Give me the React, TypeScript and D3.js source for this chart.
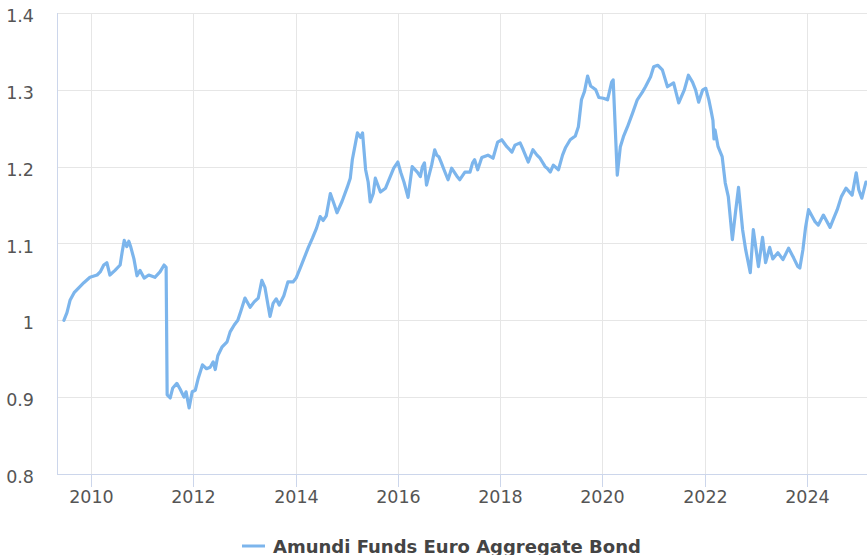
import React from "react";
import * as d3 from "d3";

const seriesName = "Amundi Funds Euro Aggregate Bond";

// decimal years
const years: number[] = [
  2009.47, 2009.53, 2009.59, 2009.67, 2009.77, 2009.86, 2009.98, 2010.12, 2010.18, 2010.25,
  2010.31, 2010.37, 2010.47, 2010.57, 2010.61, 2010.65, 2010.70, 2010.74, 2010.78, 2010.84,
  2010.90, 2010.96, 2011.04, 2011.13, 2011.25, 2011.35, 2011.43, 2011.47, 2011.49, 2011.55,
  2011.60, 2011.68, 2011.74, 2011.82, 2011.86, 2011.92, 2011.98, 2012.04, 2012.10, 2012.18,
  2012.26, 2012.33, 2012.39, 2012.43, 2012.48, 2012.56, 2012.66, 2012.72, 2012.80, 2012.87,
  2012.93, 2013.01, 2013.11, 2013.19, 2013.27, 2013.34, 2013.40, 2013.46, 2013.50, 2013.56,
  2013.62, 2013.68, 2013.77, 2013.85, 2013.95, 2014.01, 2014.09, 2014.15, 2014.25, 2014.33,
  2014.41, 2014.48, 2014.54, 2014.60, 2014.68, 2014.76, 2014.81, 2014.91, 2015.01, 2015.07,
  2015.11, 2015.17, 2015.21, 2015.27, 2015.31, 2015.37, 2015.42, 2015.46, 2015.52, 2015.56,
  2015.66, 2015.76, 2015.92, 2016.00, 2016.06, 2016.12, 2016.20, 2016.28, 2016.38, 2016.44,
  2016.48, 2016.52, 2016.56, 2016.66, 2016.72, 2016.76, 2016.80, 2016.85, 2016.89, 2016.98,
  2017.05, 2017.15, 2017.21, 2017.31, 2017.41, 2017.46, 2017.50, 2017.56, 2017.64, 2017.76,
  2017.86, 2017.95, 2018.03, 2018.13, 2018.23, 2018.29, 2018.39, 2018.45, 2018.55, 2018.64,
  2018.72, 2018.78, 2018.88, 2018.92, 2018.98, 2019.04, 2019.14, 2019.22, 2019.28, 2019.37,
  2019.47, 2019.53, 2019.59, 2019.65, 2019.71, 2019.77, 2019.87, 2019.93, 2020.02, 2020.10,
  2020.18, 2020.21, 2020.29, 2020.35, 2020.41, 2020.49, 2020.59, 2020.68, 2020.78, 2020.84,
  2020.94, 2021.00, 2021.08, 2021.17, 2021.27, 2021.39, 2021.49, 2021.60, 2021.68, 2021.76,
  2021.82, 2021.88, 2021.96, 2022.02, 2022.08, 2022.12, 2022.16, 2022.18, 2022.20, 2022.26,
  2022.34, 2022.40, 2022.46, 2022.54, 2022.60, 2022.66, 2022.74, 2022.80, 2022.89, 2022.95,
  2023.05, 2023.13, 2023.19, 2023.27, 2023.33, 2023.43, 2023.53, 2023.64, 2023.74, 2023.82,
  2023.86, 2023.92, 2023.97, 2024.03, 2024.16, 2024.22, 2024.32, 2024.45, 2024.51, 2024.59,
  2024.67, 2024.76, 2024.88, 2024.96, 2025.01, 2025.07, 2025.15,
];

const values: number[] = [
  1.000, 1.010, 1.026, 1.036, 1.043, 1.049, 1.056, 1.059, 1.063, 1.072,
  1.075, 1.059, 1.065, 1.072, 1.089, 1.104, 1.096, 1.103, 1.095, 1.080,
  1.058, 1.065, 1.055, 1.059, 1.056, 1.063, 1.072, 1.069, 0.903, 0.899,
  0.912, 0.918, 0.911, 0.900, 0.907, 0.886, 0.907, 0.909, 0.925, 0.942,
  0.937, 0.939, 0.946, 0.936, 0.954, 0.965, 0.972, 0.985, 0.994, 1.000,
  1.012, 1.029, 1.017, 1.024, 1.029, 1.052, 1.043, 1.020, 1.005, 1.022,
  1.028, 1.020, 1.032, 1.050, 1.050, 1.055, 1.068, 1.078, 1.095, 1.107,
  1.120, 1.135, 1.130, 1.136, 1.165, 1.150, 1.140, 1.155, 1.173, 1.185,
  1.209, 1.230, 1.244, 1.238, 1.244, 1.196, 1.180, 1.154, 1.165, 1.185,
  1.167, 1.172, 1.198, 1.206, 1.192, 1.180, 1.160, 1.200, 1.193, 1.187,
  1.200, 1.205, 1.176, 1.202, 1.222, 1.215, 1.213, 1.205, 1.198, 1.183,
  1.198, 1.188, 1.183, 1.193, 1.193, 1.205, 1.209, 1.196, 1.212, 1.215,
  1.211, 1.232, 1.235, 1.226, 1.219, 1.228, 1.231, 1.222, 1.206, 1.222,
  1.215, 1.211, 1.200, 1.198, 1.193, 1.202, 1.196, 1.215, 1.225, 1.235,
  1.240, 1.252, 1.287, 1.298, 1.318, 1.305, 1.300, 1.290, 1.289, 1.287,
  1.310, 1.313, 1.189, 1.226, 1.239, 1.252, 1.270, 1.287, 1.297, 1.304,
  1.317, 1.330, 1.332, 1.326, 1.304, 1.309, 1.283, 1.300, 1.319, 1.310,
  1.300, 1.284, 1.300, 1.302, 1.287, 1.274, 1.260, 1.236, 1.248, 1.226,
  1.213, 1.179, 1.161, 1.105, 1.140, 1.173, 1.118, 1.092, 1.062, 1.118,
  1.070, 1.108, 1.075, 1.095, 1.080, 1.088, 1.079, 1.094, 1.081, 1.070,
  1.068, 1.092, 1.120, 1.144, 1.128, 1.124, 1.137, 1.121, 1.131, 1.144,
  1.161, 1.172, 1.163, 1.192, 1.170, 1.159, 1.180, 1.178,
];

const yTicks: number[] = [0.8, 0.9, 1.0, 1.1, 1.2, 1.3, 1.4];
const xTickYears: number[] = [2010, 2012, 2014, 2016, 2018, 2020, 2022, 2024];

function toDate(y: number): Date {
  const yr = Math.floor(y);
  const start = Date.UTC(yr, 0, 1);
  const end = Date.UTC(yr + 1, 0, 1);
  return new Date(start + (y - yr) * (end - start));
}

export default function App() {
  const W = 867;
  const H = 555;
  const left = 57;
  const right = 867;
  const top = 13;
  const bottom = 474;

  const x = d3
    .scaleUtc()
    .domain([toDate(2009.335), toDate(2025.171)])
    .range([left, right]);
  const y = d3.scaleLinear().domain([0.8, 1.4]).range([bottom, top]);

  const n = Math.min(years.length, values.length);
  const data = years.slice(0, n).map((yr, i) => ({ d: toDate(yr), v: values[i] }));
  const line = d3
    .line<{ d: Date; v: number }>()
    .x((p) => x(p.d))
    .y((p) => y(p.v));

  const fmtY = (v: number) => (Math.abs(v - 1) < 1e-9 ? "1" : d3.format(".1f")(v));
  const font = "'DejaVu Sans', Verdana, sans-serif";

  return (
    <svg
      width={W}
      height={H}
      style={{ position: "absolute", left: 0, top: 0, background: "#fff" }}
    >
      <rect x={0} y={0} width={W} height={H} fill="#fff" />
      {yTicks.map((t) => (
        <line
          key={"gy" + t}
          x1={left}
          x2={right}
          y1={Math.round(y(t)) + 0.5}
          y2={Math.round(y(t)) + 0.5}
          stroke="#e6e6e6"
          strokeWidth={1}
        />
      ))}
      {xTickYears.map((yr) => {
        const px = Math.round(x(toDate(yr))) + 0.5;
        return (
          <g key={"gx" + yr}>
            <line x1={px} x2={px} y1={top} y2={bottom} stroke="#e6e6e6" strokeWidth={1} />
            <line x1={px} x2={px} y1={bottom} y2={bottom + 13} stroke="#ccd6eb" strokeWidth={1} />
            <text
              x={px}
              y={503}
              textAnchor="middle"
              fontFamily={font}
              fontSize={17.5}
              fill="#555"
            >
              {yr}
            </text>
          </g>
        );
      })}
      <line x1={left + 0.5} x2={left + 0.5} y1={top} y2={bottom} stroke="#ccd6eb" strokeWidth={1} />
      <line x1={left} x2={right} y1={bottom + 0.5} y2={bottom + 0.5} stroke="#ccd6eb" strokeWidth={1} />
      {yTicks.map((t) => (
        <text
          key={"ly" + t}
          x={34}
          y={y(t) + 9}
          textAnchor="end"
          fontFamily={font}
          fontSize={17.5}
          fill="#555"
        >
          {fmtY(t)}
        </text>
      ))}
      <path
        d={line(data) || ""}
        fill="none"
        stroke="#7cb5ec"
        strokeWidth={3.2}
        strokeLinejoin="round"
        strokeLinecap="round"
      />
      <line x1={242} x2={265} y1={546} y2={546} stroke="#7cb5ec" strokeWidth={3} />
      <text x={273} y={553} fontFamily={font} fontSize={18} fontWeight="bold" fill="#444">
        {seriesName}
      </text>
    </svg>
  );
}
